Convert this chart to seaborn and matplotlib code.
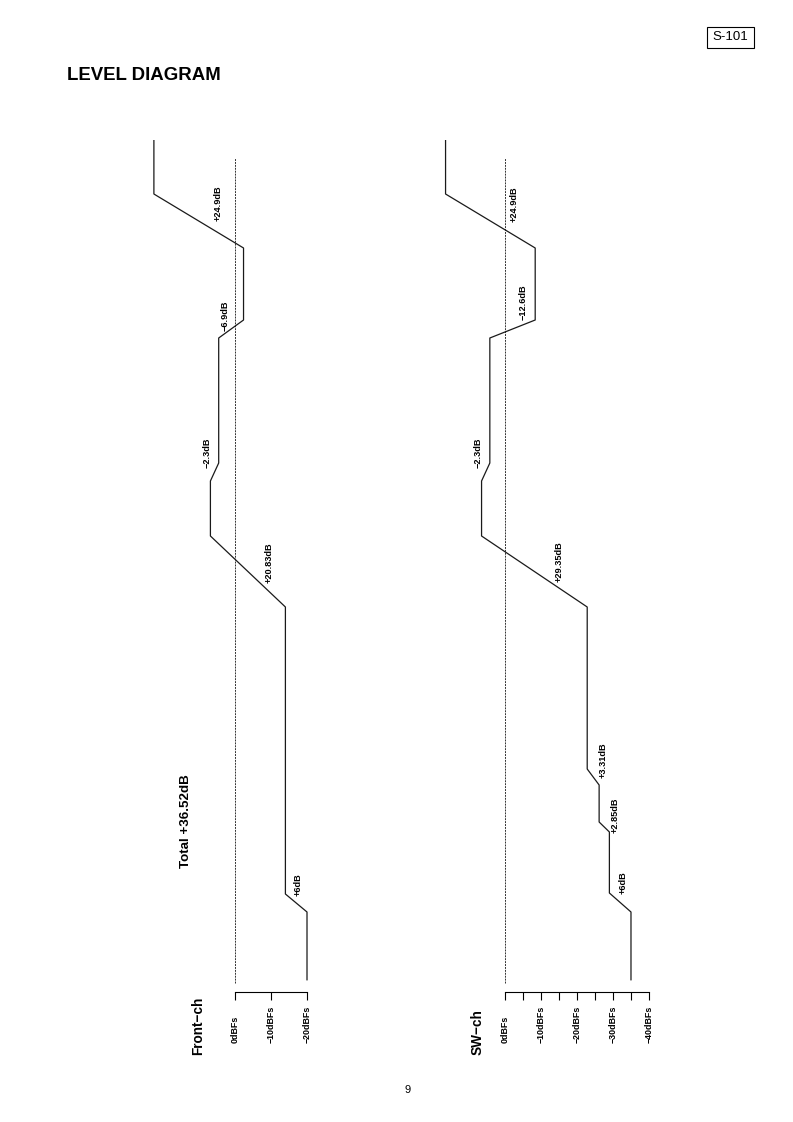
import matplotlib.pyplot as plt
from matplotlib.patches import Rectangle
import pandas as pd
import seaborn as sns


# Level diagram data: position along the signal path (bottom -> top) and level in dBFs
front_pos = [1.2, 8.0, 9.8, 38.5, 45.6, 51.1, 52.9, 65.4, 67.2, 74.4, 79.8, 85.2]
front_level = [-20, -20, -14, -14, 6.83, 6.83, 4.53, 4.53, -2.37, -2.37, 22.53, 22.53]
front_gains = ['+6dB', '+20.83dB', '\u22122.3dB', '\u22126.9dB', '+24.9dB']

sw_pos = [1.2, 8.0, 9.9, 16.0, 17.0, 20.7, 22.3, 38.5, 45.6, 51.1, 52.9, 65.4, 67.2, 74.4, 79.8, 85.2]
sw_level = [-35, -35, -29, -29, -26.15, -26.15, -22.84, -22.84, 6.51, 6.51,
            4.21, 4.21, -8.39, -8.39, 16.51, 16.51]
sw_gains = ['+6dB', '+2.85dB', '+3.31dB', '+29.35dB', '\u22122.3dB', '\u221212.6dB', '+24.9dB']

front_ticks = [0, -10, -20]
front_ticklabels = ['0dBFs', '\u221210dBFs', '\u221220dBFs']
sw_ticks = [0, -5, -10, -15, -20, -25, -30, -35, -40]
sw_ticklabels = ['0dBFs', '', '\u221210dBFs', '', '\u221220dBFs', '', '\u221230dBFs', '', '\u221240dBFs']

# label offsets from the middle of each slope, in pixels (right, up)
front_offsets = [(1.5, 18), (21, 8.5), (-7.5, 19), (-5.5, 13), (19, 18)]
sw_offsets = [(2.5, 19.5), (10.5, 12), (10, 17), (24.5, 9.5), (-8, 19), (10.5, 27), (23.5, 17)]


sns.set_style('white')
plt.rcParams['font.family'] = ['Liberation Sans', 'DejaVu Sans']
plt.rcParams['font.weight'] = 'bold'
plt.rcParams['text.color'] = 'black'

W, H = 793, 1122
fig = plt.figure(figsize=(W / 100, H / 100), dpi=100)


def px_axes(left, top, right, bottom):
    return fig.add_axes([left / W, 1 - bottom / H, (right - left) / W, (bottom - top) / H])


def draw_channel(ax, pos, level, gains, offsets, ticks, ticklabels, xlim):
    df = pd.DataFrame({'pos': pos, 'level': level})
    ymax = 85.2

    # 0dBFs reference
    ax.axvline(0, ymin=0.9 / ymax, ymax=83.4 / ymax, color='#333333', lw=0.7, ls=(0, (2, 1)))

    sns.lineplot(data=df, x='level', y='pos', sort=False, estimator=None,
                 color='#1a1a1a', lw=0.9, ax=ax)

    for k, (txt, (dx, dy)) in enumerate(zip(gains, offsets)):
        i = 2 * k + 1
        mid = ((level[i] + level[i + 1]) / 2, (pos[i] + pos[i + 1]) / 2)
        ax.annotate(txt, xy=mid, xytext=(dx, dy), textcoords='offset pixels',
                    rotation=90, ha='center', va='center', fontsize=6.6, color='black')

    ax.set_xlim(*xlim)
    ax.set_ylim(0, ymax)
    ax.set(xlabel=None, ylabel=None, yticks=[])
    ax.set_xticks(ticks, ticklabels)
    ax.tick_params(axis='x', bottom=True, direction='out', length=5.8, width=0.8, pad=30.9,
                   labelsize=6.4, labelrotation=90, colors='black')
    for lbl in ax.get_xticklabels():
        lbl.set_va('bottom')
    for side in ('left', 'top', 'right'):
        ax.spines[side].set_visible(False)
    ax.spines['bottom'].set_bounds(ticks[-1], ticks[0])
    ax.spines['bottom'].set_linewidth(0.8)
    ax.spines['bottom'].set_color('black')
    ax.patch.set_alpha(0)


ax_front = px_axes(140, 140, 320, 992)
draw_channel(ax_front, front_pos, front_level, front_gains, front_offsets,
             front_ticks, front_ticklabels, (26.39, -23.61))

ax_sw = px_axes(420, 140, 660, 992)
draw_channel(ax_sw, sw_pos, sw_level, sw_gains, sw_offsets,
             sw_ticks, sw_ticklabels, (23.61, -43.06))

# Channel names and total gain
fig.text(198 / W, 1 - 1055 / H, 'Front\u2212ch', rotation=90, ha='center', va='bottom', fontsize=9.8)
fig.text(478 / W, 1 - 1055 / H, 'SW\u2212ch', rotation=90, ha='center', va='bottom', fontsize=9.8)
fig.text(186 / W, 1 - 821 / H, 'Total +36.52dB', rotation=90, ha='center', va='center', fontsize=9.6)

# Page furniture
fig.text(67 / W, 1 - 75 / H, 'LEVEL DIAGRAM', ha='left', va='center', fontsize=13.4)
fig.patches.append(Rectangle((707 / W, 1 - 48 / H), 47 / W, 21 / H, transform=fig.transFigure,
                             fill=False, ec='black', lw=0.8))
fig.text(730.5 / W, 1 - 37.5 / H, 'S-101', ha='center', va='center', fontsize=9.5,
         weight='normal')
fig.text(408 / W, 1 - 1090 / H, '9', ha='center', va='center', fontsize=8, weight='normal')

fig.savefig('out.png', dpi=100)
